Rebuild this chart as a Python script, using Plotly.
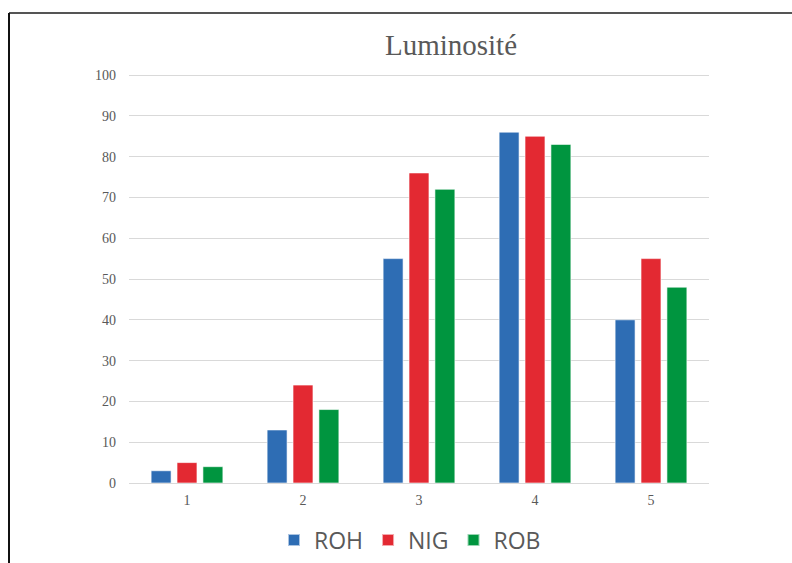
import plotly.graph_objects as go

categories = ["1", "2", "3", "4", "5"]
roh = [3, 13, 55, 86, 40]
nig = [5, 24, 76, 85, 55]
rob = [4, 18, 72, 83, 48]

series = [("ROH", roh, "#2E6DB4"), ("NIG", nig, "#E32932"), ("ROB", rob, "#00953F")]

fig = go.Figure()
for name, vals, color in series:
    fig.add_trace(go.Bar(
        x=categories, y=vals, name=name,
        marker=dict(color=color, line=dict(color="rgba(255,255,255,0.6)", width=1)),
    ))

L, R, T, B = 129, 83, 74, 80
W, H = 792, 563
pw, ph = W - L - R, H - T - B

def px_x(p):
    return (p - L) / pw

def px_y(p):
    return (H - B - p) / ph

fig.update_layout(
    width=W, height=H,
    margin=dict(l=L, r=R, t=T, b=B, autoexpand=False),
    paper_bgcolor="white", plot_bgcolor="white",
    barmode="group", bargap=0.33, bargroupgap=0.23,
    title=dict(text="Luminosité", x=451 / W, xanchor="center", xref="container",
               y=1 - 45 / H, yanchor="middle",
               font=dict(family="Liberation Serif", size=29, color="#595959")),
    font=dict(family="Liberation Serif", size=12, color="#595959"),
    xaxis=dict(showgrid=False, showline=True, linecolor="#D9D9D9", linewidth=1,
               ticks="", ticklabelstandoff=4, tickfont=dict(size=14, color="#595959")),
    yaxis=dict(range=[0, 100.25], tickvals=list(range(0, 101, 10)), showgrid=True,
               gridcolor="#D9D9D9", gridwidth=1,
               zeroline=False, showline=False, ticks="", ticklabelstandoff=12,
               tickfont=dict(size=14, color="#595959")),
    showlegend=True,
    legend=dict(orientation="h", x=px_x(410), xanchor="center",
                yref="container", y=1 - 540 / H, yanchor="middle",
                font=dict(family="Open Sans", size=23, color="#595959"),
                itemsizing="constant", itemwidth=30, traceorder="normal"),
    shapes=[
        dict(type="line", xref="paper", yref="paper", x0=px_x(9), x1=px_x(800), y0=px_y(13), y1=px_y(13),
             line=dict(color="#555555", width=2)),
        dict(type="line", xref="paper", yref="paper", x0=px_x(9), x1=px_x(9), y0=px_y(13), y1=px_y(570),
             line=dict(color="#111111", width=2)),
    ],
)

fig.write_html("out.html")
